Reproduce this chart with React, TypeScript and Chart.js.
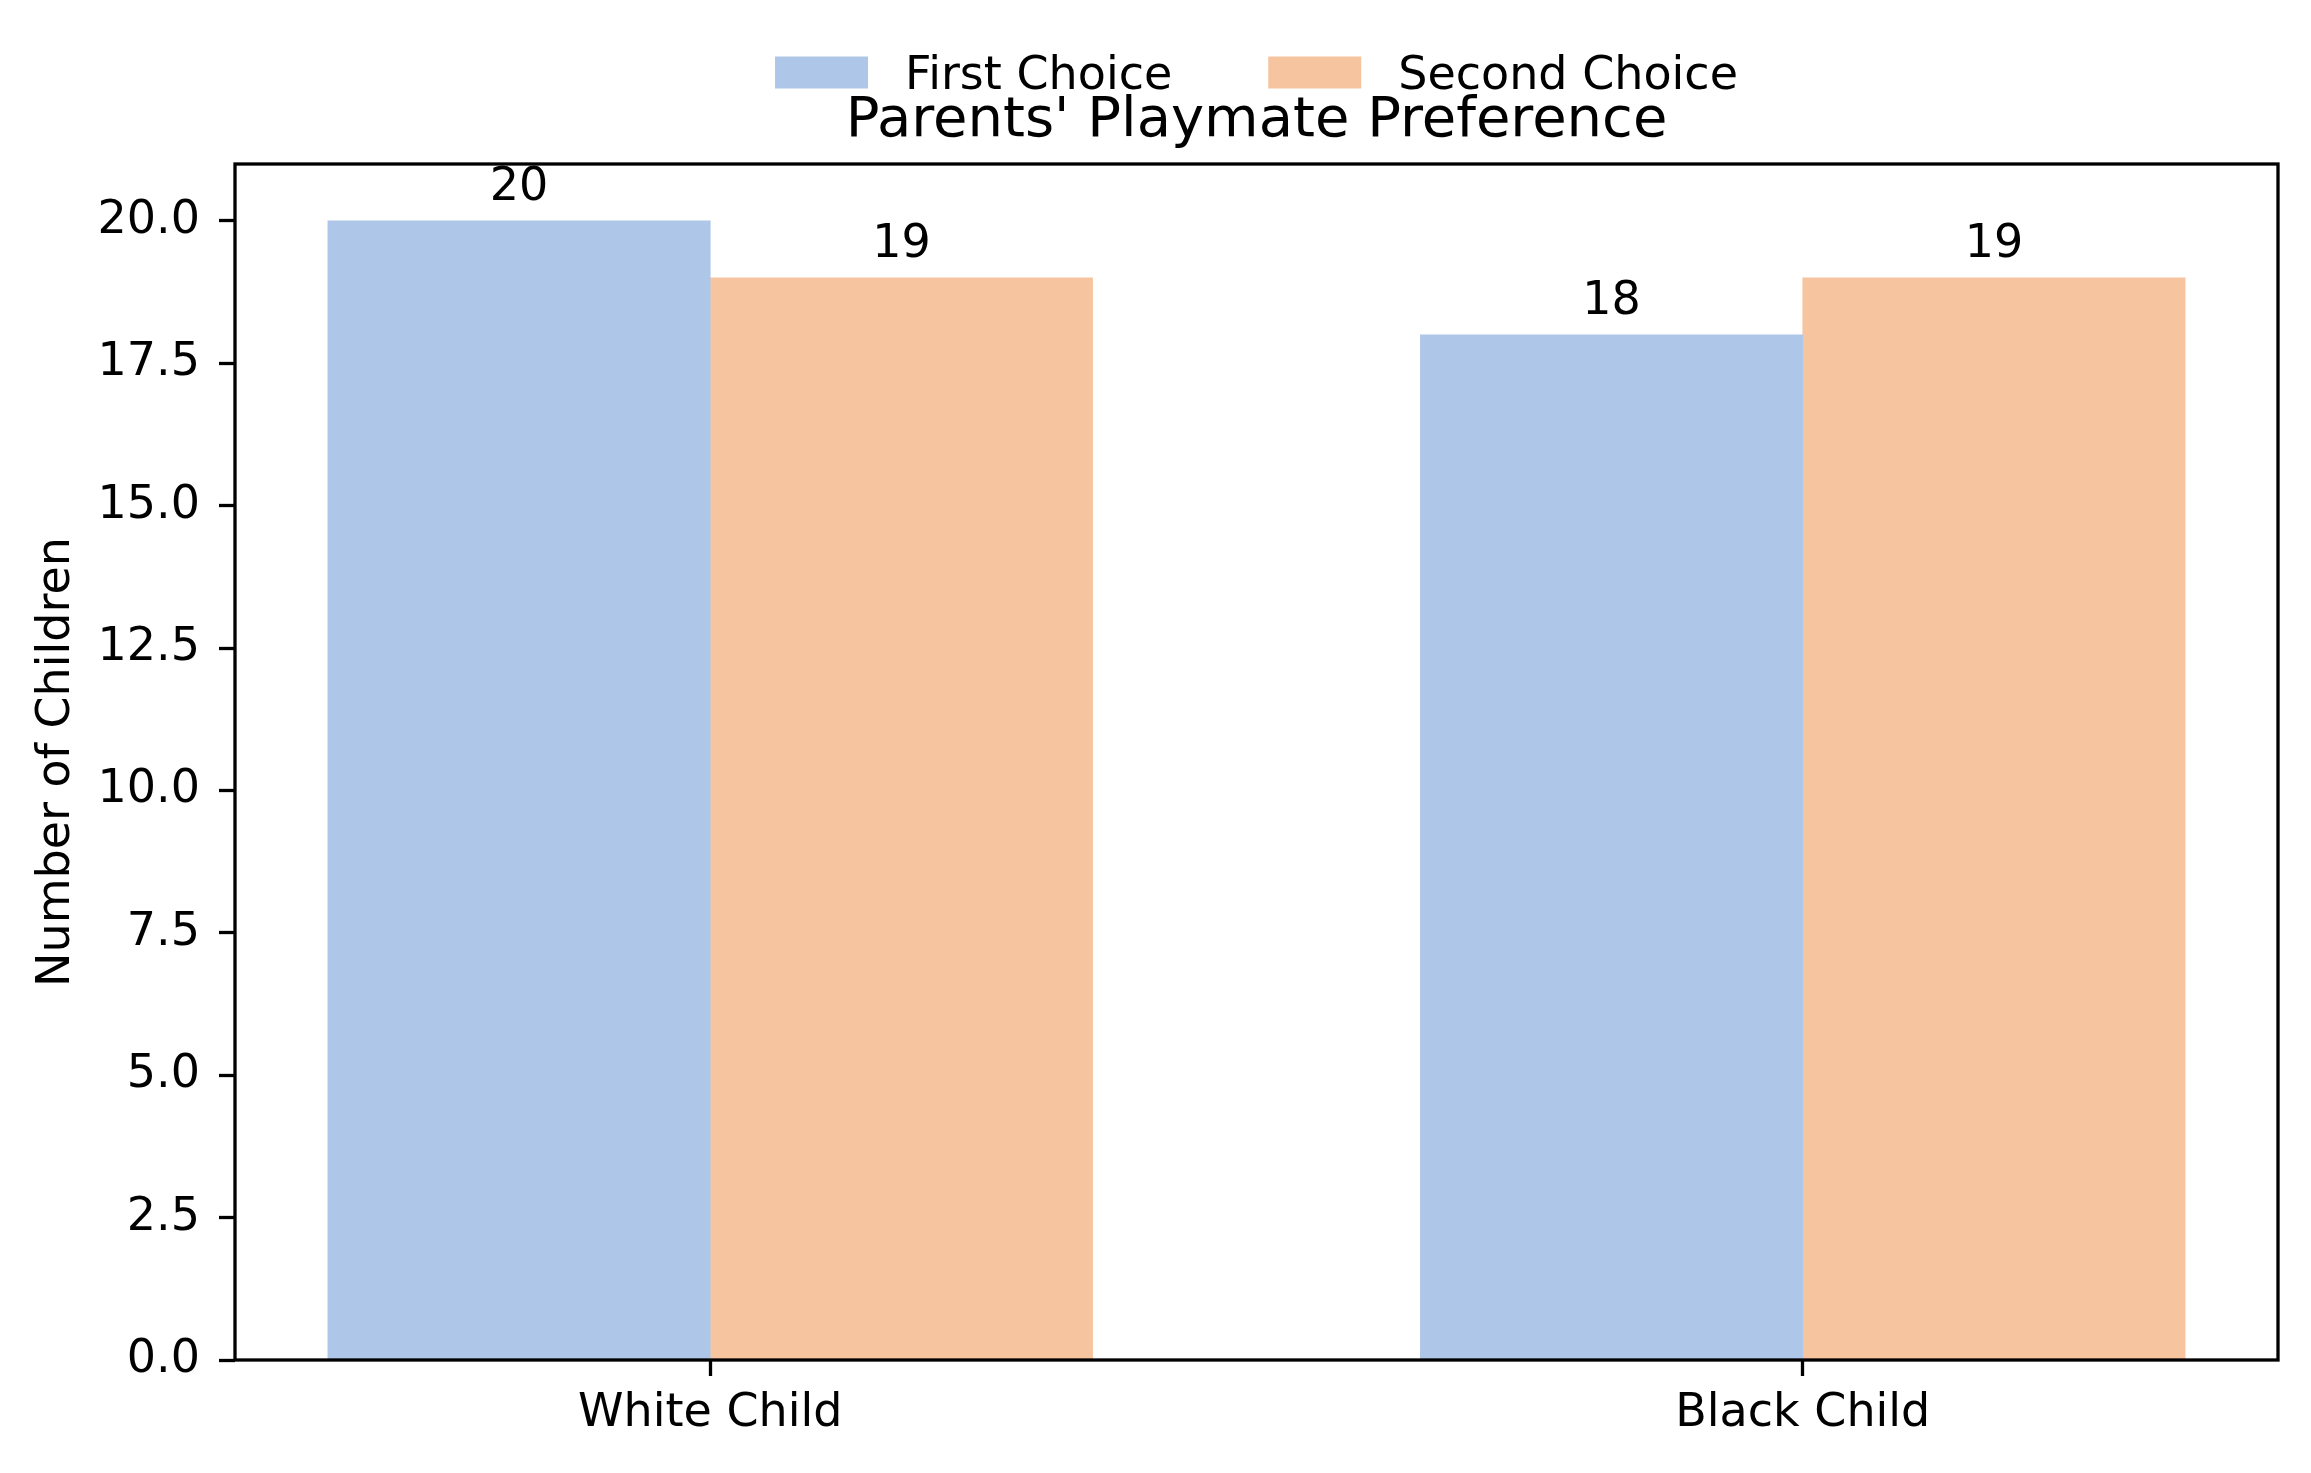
import React, { useEffect, useRef } from 'react';
import { Chart, registerables } from 'chart.js';

Chart.register(...registerables);

// ---- data ----
const categories = ['White Child', 'Black Child'];
const firstChoice = [20, 18];
const secondChoice = [19, 19];
const seriesLabels = ['First Choice', 'Second Choice'];
const seriesColors = ['#aec7e8', '#f6c5a0'];
const yTickValues = [0, 2.5, 5, 7.5, 10, 12.5, 15, 17.5, 20];
const yMax = 21;
const chartTitle = "Parents' Playmate Preference";
const yAxisTitle = 'Number of Children';

const FONT = '"DejaVu Sans", "Liberation Sans", sans-serif';
const FS = 46;
const TITLE_FS = 56;
const LINE_W = 3.3;
const BAR_WIDTH = 0.35;
const W = 2311;
const H = 1473;

const seriesValues = [firstChoice, secondChoice];

const frameAndLabels = {
  id: 'frameAndLabels',
  afterDatasetsDraw(chart: any) {
    const { ctx, chartArea } = chart;
    ctx.save();
    ctx.strokeStyle = '#000';
    ctx.lineWidth = LINE_W;
    ctx.strokeRect(chartArea.left, chartArea.top, chartArea.right - chartArea.left, chartArea.bottom - chartArea.top);
    ctx.fillStyle = '#000';
    ctx.font = `${FS}px ${FONT}`;
    ctx.textAlign = 'center';
    ctx.textBaseline = 'alphabetic';
    chart.data.datasets.forEach((ds: any, di: number) => {
      const meta = chart.getDatasetMeta(di);
      meta.data.forEach((el: any, i: number) => {
        const v = ds.data[i].y;
        ctx.fillText(String(v), el.x, el.y - 21);
      });
    });
    ctx.restore();
  },
};

const customLegend = {
  id: 'customLegend',
  afterDraw(chart: any) {
    const { ctx, chartArea } = chart;
    ctx.save();
    ctx.font = `${FS}px ${FONT}`;
    const boxW = 93;
    const boxH = 32;
    const gap = 37;
    const colSpace = 96;
    const items = chart.data.datasets.map((ds: any) => ({
      text: ds.label,
      color: ds.backgroundColor,
      w: ctx.measureText(ds.label).width,
    }));
    const total =
      items.reduce((s: number, it: any) => s + boxW + gap + it.w, 0) + colSpace * (items.length - 1);
    const cx = (chartArea.left + chartArea.right) / 2;
    const cy = 72.5;
    const baseline = 89;
    let x = cx - total / 2;
    ctx.textAlign = 'left';
    ctx.textBaseline = 'alphabetic';
    items.forEach((it: any) => {
      ctx.fillStyle = it.color;
      ctx.fillRect(x, cy - boxH / 2, boxW, boxH);
      x += boxW + gap;
      ctx.fillStyle = '#000';
      ctx.fillText(it.text, x, baseline);
      x += it.w + colSpace;
    });
    ctx.restore();
  },
};

export default function App() {
  const ref = useRef<HTMLCanvasElement | null>(null);

  useEffect(() => {
    document.body.style.margin = '0';
    const canvas = ref.current;
    if (!canvas) return;
    const n = categories.length;
    const span = n - 1 + 2 * BAR_WIDTH;
    const xMin = -BAR_WIDTH - 0.05 * span;
    const xMax = n - 1 + BAR_WIDTH + 0.05 * span;

    const chart = new Chart(canvas, {
      type: 'bar',
      data: {
        datasets: seriesValues.map((vals, s) => ({
          label: seriesLabels[s],
          data: vals.map((v, i) => ({ x: i + (s - 0.5) * BAR_WIDTH, y: v })),
          backgroundColor: seriesColors[s],
          borderWidth: 0,
          grouped: false,
          barPercentage: 1,
          categoryPercentage: 1,
        })),
      },
      options: {
        responsive: false,
        animation: false,
        devicePixelRatio: 1,
        events: [],
        layout: { padding: { top: 85, left: 0, right: 33, bottom: 0 } },
        plugins: {
          legend: { display: false },
          tooltip: { enabled: false },
          title: {
            display: true,
            text: chartTitle,
            color: '#000',
            fullSize: false,
            font: { family: FONT, size: TITLE_FS, weight: 'normal' },
            padding: { top: 3, bottom: 8.8 },
          },
        },
        scales: {
          x: {
            type: 'linear',
            min: xMin,
            max: xMax,
            offset: false,
            afterBuildTicks: (scale: any) => {
              scale.ticks = categories.map((_, i) => ({ value: i }));
            },
            afterFit: (scale: any) => {
              scale.height = 113;
            },
            ticks: {
              callback: (v: any) => categories[v as number] ?? '',
              color: '#000',
              font: { family: FONT, size: FS },
              padding: 10,
              autoSkip: false,
              maxRotation: 0,
            },
            grid: {
              display: true,
              offset: false,
              drawOnChartArea: false,
              drawTicks: true,
              tickLength: 16,
              tickColor: '#000',
              tickWidth: LINE_W,
            },
            border: { display: false },
          },
          y: {
            type: 'linear',
            min: 0,
            max: yMax,
            afterBuildTicks: (scale: any) => {
              scale.ticks = yTickValues.map((v) => ({ value: v }));
            },
            afterFit: (scale: any) => {
              scale.width = 235;
            },
            ticks: {
              callback: (v: any) => Number(v).toFixed(1),
              color: '#000',
              font: { family: FONT, size: FS },
              padding: 19,
            },
            grid: {
              display: true,
              drawOnChartArea: false,
              drawTicks: true,
              tickLength: 16,
              tickColor: '#000',
              tickWidth: LINE_W,
            },
            border: { display: false },
            title: {
              display: true,
              text: yAxisTitle,
              color: '#000',
              font: { family: FONT, size: FS },
              padding: { top: 29, bottom: 0 },
            },
          },
        },
      },
      plugins: [frameAndLabels, customLegend],
    } as any);

    return () => chart.destroy();
  }, []);

  return (
    <div style={{ width: W, height: H, background: '#fff' }}>
      <canvas ref={ref} width={W} height={H} style={{ display: 'block', width: W, height: H }} />
    </div>
  );
}
